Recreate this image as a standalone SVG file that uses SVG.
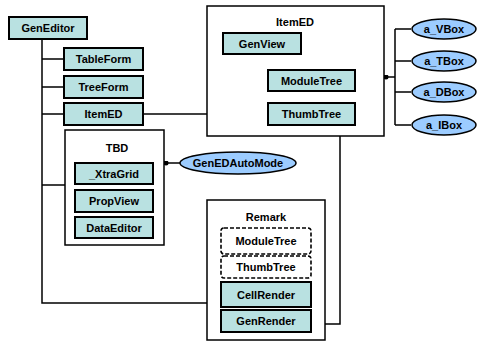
<svg xmlns="http://www.w3.org/2000/svg" width="479" height="342" viewBox="0 0 479 342">
  <style>
    .box { fill: #b9e1e1; stroke: #000; stroke-width: 2; }
    .dash { fill: #fff; stroke: #000; stroke-width: 1.6; stroke-dasharray: 4 2; }
    .frame { fill: #fff; stroke: #000; stroke-width: 1.5; }
    .oval { fill: #9cccff; stroke: #000; stroke-width: 1.5; }
    .wire { fill: none; stroke: #000; stroke-width: 1.5; }
    text { font-family: "Liberation Sans", Arial, sans-serif; font-size: 11px; font-weight: bold; text-anchor: middle; dominant-baseline: central; fill: #000; }
  </style>
  <defs>
    <marker id="dot" viewBox="0 0 6 6" refX="3" refY="3" markerWidth="5" markerHeight="5" markerUnits="userSpaceOnUse">
      <circle cx="3" cy="3" r="3" fill="#000"/>
    </marker>
  </defs>
  <rect width="479" height="342" fill="#fff"/>

  <!-- connectors -->
  <g id="connectors" class="wire">
    <path d="M42,39 V303 H207"/>
    <path d="M42,59 H64 M42,87 H64 M42,114 H64 M42,185 H65"/>
    <path d="M143,114 H207"/>
    <path d="M325,324 H340 V136"/>
    <path d="M252,54 V114 M252,80 H268 M252,114 H268"/>
    <path d="M395,77 H386" marker-end="url(#dot)"/>
    <path d="M395,29 V125 M395,29 H411 M395,61 H411 M395,92 H411 M395,125 H411"/>
    <path d="M180,163 H166" marker-end="url(#dot)"/>
    <path d="M114,184 V190 M114,212 V217"/>
    <path d="M264,254 V256 M264,278 V282 M264,307 V310"/>
  </g>

  <g id="GenEditor">
    <rect class="box" x="9" y="17" width="78" height="22"/>
    <text x="48" y="28">GenEditor</text>
  </g>
  <g id="TableForm">
    <rect class="box" x="64" y="48" width="79" height="22"/>
    <text x="103.5" y="59">TableForm</text>
  </g>
  <g id="TreeForm">
    <rect class="box" x="64" y="76" width="79" height="22"/>
    <text x="103.5" y="87">TreeForm</text>
  </g>
  <g id="ItemED-link">
    <rect class="box" x="64" y="103" width="79" height="22"/>
    <text x="103.5" y="114">ItemED</text>
  </g>

  <g id="ItemED">
    <rect class="frame" x="207" y="6" width="177" height="130"/>
    <text x="295" y="22">ItemED</text>
    <g id="GenView">
      <rect class="box" x="223" y="33" width="78" height="21"/>
      <text x="262" y="43.5">GenView</text>
    </g>
    <g id="ModuleTree">
      <rect class="box" x="268" y="70" width="87" height="21"/>
      <text x="311.5" y="80.5">ModuleTree</text>
    </g>
    <g id="ThumbTree">
      <rect class="box" x="268" y="103" width="87" height="22"/>
      <text x="311.5" y="114">ThumbTree</text>
    </g>
  </g>

  <g id="a_VBox">
    <ellipse class="oval" cx="444" cy="29" rx="32" ry="10"/>
    <text x="444" y="29">a_VBox</text>
  </g>
  <g id="a_TBox">
    <ellipse class="oval" cx="444" cy="61" rx="32" ry="10"/>
    <text x="444" y="61">a_TBox</text>
  </g>
  <g id="a_DBox">
    <ellipse class="oval" cx="444" cy="92" rx="32" ry="10"/>
    <text x="444" y="92">a_DBox</text>
  </g>
  <g id="a_IBox">
    <ellipse class="oval" cx="444" cy="125" rx="32" ry="10"/>
    <text x="444" y="125">a_IBox</text>
  </g>

  <g id="TBD">
    <rect class="frame" x="65" y="130" width="99" height="115"/>
    <text x="117" y="148">TBD</text>
    <g id="XtraGrid">
      <rect class="box" x="75" y="163" width="78" height="21"/>
      <text x="114" y="173.5">_XtraGrid</text>
    </g>
    <g id="PropView">
      <rect class="box" x="75" y="190" width="78" height="22"/>
      <text x="114" y="201">PropView</text>
    </g>
    <g id="DataEditor">
      <rect class="box" x="75" y="217" width="78" height="21"/>
      <text x="114" y="227.5">DataEditor</text>
    </g>
  </g>

  <g id="GenEDAutoMode">
    <ellipse class="oval" cx="238" cy="163" rx="58" ry="11"/>
    <text x="238" y="163">GenEDAutoMode</text>
  </g>

  <g id="Remark">
    <rect class="frame" x="207" y="200" width="118" height="140"/>
    <text x="266" y="217">Remark</text>
    <g id="ModuleTreeRef">
      <rect class="dash" x="221" y="228" width="90" height="26" rx="3"/>
      <text x="266" y="241">ModuleTree</text>
    </g>
    <g id="ThumbTreeRef">
      <rect class="dash" x="221" y="256" width="90" height="22" rx="3"/>
      <text x="266" y="267">ThumbTree</text>
    </g>
    <g id="CellRender">
      <rect class="box" x="221" y="282" width="90" height="25"/>
      <text x="266" y="294.5">CellRender</text>
    </g>
    <g id="GenRender">
      <rect class="box" x="221" y="310" width="90" height="22"/>
      <text x="266" y="321">GenRender</text>
    </g>
  </g>
</svg>
